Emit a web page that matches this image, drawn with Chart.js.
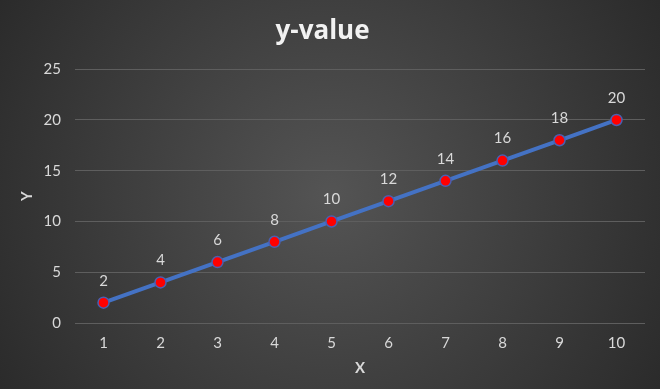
<!DOCTYPE html>
<html>
<head>
<meta charset="utf-8">
<script src="https://cdn.jsdelivr.net/npm/chart.js@4"></script>
<style>
  html, body { margin: 0; padding: 0; background: #3a3a3a; }
  #wrap { width: 660px; height: 389px; }
</style>
</head>
<body>
<div id="wrap"><canvas id="chart"></canvas></div>
<script>
const xLabels = ['1', '2', '3', '4', '5', '6', '7', '8', '9', '10'];
const yValues = [2, 4, 6, 8, 10, 12, 14, 16, 18, 20];

const ctx = document.getElementById('chart');

// dark radial background like the Office style
const bgPlugin = {
  id: 'bg',
  beforeDraw(chart) {
    const c = chart.ctx;
    const w = chart.width, h = chart.height;
    const g = c.createRadialGradient(w / 2, h / 2, 0, w / 2, h / 2, w * 0.62);
    g.addColorStop(0, '#545454');
    g.addColorStop(1, '#282828');
    c.save();
    c.fillStyle = g;
    c.fillRect(0, 0, w, h);
    c.restore();
  }
};

// value labels above each point
const labelPlugin = {
  id: 'pointLabels',
  afterDatasetsDraw(chart) {
    const c = chart.ctx;
    const meta = chart.getDatasetMeta(0);
    c.save();
    c.fillStyle = '#d9d9d9';
    c.font = '15px Lato';
    c.textAlign = 'center';
    c.textBaseline = 'middle';
    meta.data.forEach((pt, i) => {
      c.fillText(String(yValues[i]), pt.x, pt.y - 22);
    });
    c.restore();
  }
};

new Chart(ctx, {
  type: 'line',
  data: {
    labels: xLabels,
    datasets: [{
      label: 'y-value',
      data: yValues,
      borderColor: '#4472c4',
      borderWidth: 4,
      pointBackgroundColor: '#ff0000',
      pointBorderColor: '#4a5fb0',
      pointBorderWidth: 1.5,
      pointRadius: 5.5,
      tension: 0
    }]
  },
  options: {
    responsive: true,
    maintainAspectRatio: false,
    animation: false,
    layout: { padding: { left: 0, right: 15, top: 0, bottom: 0 } },
    plugins: {
      legend: { display: false },
      tooltip: { enabled: false },
      title: {
        display: true,
        text: 'y-value',
        color: '#f2f2f2',
        font: { family: 'Open Sans', size: 26, weight: 'bold' },
        padding: { top: 16, bottom: 22 }
      }
    },
    scales: {
      x: {
        offset: true,
        afterFit(scale) { scale.height = 66; },
        grid: { display: false, drawTicks: false },
        border: { display: false },
        ticks: { color: '#d9d9d9', font: { family: 'Lato', size: 15 }, padding: 11 },
        title: {
          display: true, text: 'X', color: '#d9d9d9',
          font: { family: 'Lato', size: 15, weight: 'bold' },
          padding: { top: 0, bottom: 12 }
        }
      },
      y: {
        min: 0,
        max: 25,
        afterFit(scale) { scale.width = 75; },
        grid: { color: '#5e5e5e', lineWidth: 1, drawTicks: false },
        border: { display: false },
        ticks: { stepSize: 5, color: '#d9d9d9', font: { family: 'Lato', size: 15 }, padding: 14 },
        title: {
          display: true, text: 'Y', color: '#d9d9d9',
          font: { family: 'Lato', size: 15, weight: 'bold' },
          padding: { top: 18, bottom: 0 }
        }
      }
    }
  },
  plugins: [bgPlugin, labelPlugin]
});
</script>
</body>
</html>
